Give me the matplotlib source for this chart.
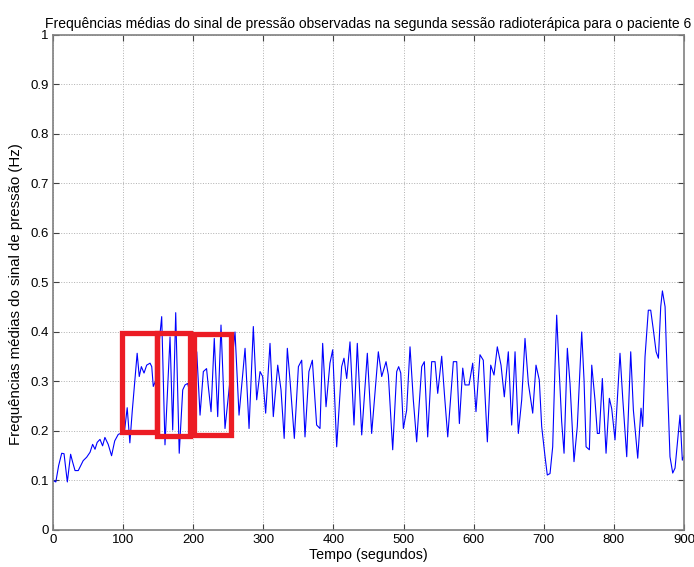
import numpy as np
import matplotlib
matplotlib.use("Agg")
import matplotlib.pyplot as plt
from matplotlib.patches import Rectangle

plt.rcParams['font.family'] = ['Liberation Sans', 'DejaVu Sans']

# tempo (s) e frequência média (Hz) do sinal de pressão
tempo = [0, 4, 8, 12.4, 15.7, 20.4, 25.1, 28, 31.4, 36, 43, 48, 52.8, 56.5, 59.9,
         63, 67, 70.7, 74, 78.7, 83.5, 88, 93, 97.7, 102, 105.8, 109.6, 113, 116.6,
         120, 123, 126, 129.8, 133.6, 138.4, 140.8, 143, 146, 155, 159.7, 166.9,
         170.7, 175, 180, 185, 188.3, 192, 197.8, 205, 209.7, 214.4, 219, 221.5,
         225.4, 230, 234.9, 239.6, 245.3, 259.6, 265.3, 273.9, 279.6, 285.7, 290.5,
         295.3, 299, 303.3, 309.5, 314.2, 320.5, 325.2, 329.7, 334.2, 338, 344.2,
         350, 354.7, 359.4, 365, 369.9, 373.7, 376, 380.8, 384.6, 389.4, 395, 398.9,
         404.6, 411.7, 415, 418.9, 423.6, 429.3, 434, 440.3, 448.3, 454.5, 464,
         468.8, 475, 478.3, 484.5, 490.2, 493, 496, 499.7, 504.4, 509.2, 513.9,
         518.7, 525.9, 529.6, 534.4, 540.1, 544.9, 548.7, 554.4, 558.2, 563, 568.6,
         571, 575.8, 579.6, 584.4, 587.6, 593.4, 598.6, 603.3, 609, 613.7, 619.5,
         624.3, 629, 633.7, 639, 643.7, 649.4, 654.2, 659, 663.7, 668.5, 673.2, 678,
         684.2, 688.9, 693.6, 697, 701.8, 705, 708.9, 712.7, 716, 718.4, 721.7,
         725.5, 728.9, 733.6, 737.4, 743.1, 747.8, 754.1, 757.4, 760.3, 765, 768.4,
         773, 776.4, 779.2, 783.5, 788.8, 793.5, 796.9, 801.6, 808.7, 812.6, 818.3,
         824, 827.8, 834, 838.7, 841.1, 844.4, 849.1, 852.5, 856.3, 860.2, 863.5,
         866.8, 869.2, 873, 876.2, 880, 883.9, 887.2, 890.5, 894.3, 897.6, 900]
freq = [0.100, 0.097, 0.130, 0.155, 0.154, 0.097, 0.153, 0.137, 0.120, 0.120, 0.140,
        0.147, 0.157, 0.173, 0.163, 0.177, 0.183, 0.170, 0.187, 0.173, 0.150, 0.180,
        0.193, 0.196, 0.200, 0.247, 0.176, 0.240, 0.300, 0.357, 0.310, 0.330, 0.317,
        0.333, 0.337, 0.330, 0.290, 0.300, 0.431, 0.172, 0.390, 0.202, 0.439, 0.155,
        0.283, 0.293, 0.296, 0.263, 0.360, 0.232, 0.320, 0.326, 0.290, 0.239, 0.387,
        0.229, 0.414, 0.205, 0.400, 0.232, 0.367, 0.205, 0.411, 0.263, 0.320, 0.310,
        0.236, 0.377, 0.229, 0.333, 0.283, 0.185, 0.367, 0.303, 0.185, 0.330, 0.343,
        0.188, 0.320, 0.343, 0.263, 0.212, 0.205, 0.377, 0.249, 0.337, 0.364, 0.168,
        0.330, 0.347, 0.306, 0.380, 0.212, 0.377, 0.192, 0.357, 0.195, 0.360, 0.310,
        0.340, 0.313, 0.162, 0.320, 0.330, 0.317, 0.205, 0.242, 0.370, 0.263, 0.178,
        0.330, 0.340, 0.188, 0.340, 0.340, 0.276, 0.351, 0.276, 0.188, 0.296, 0.340,
        0.340, 0.215, 0.327, 0.293, 0.293, 0.337, 0.239, 0.354, 0.343, 0.178, 0.333,
        0.313, 0.370, 0.333, 0.269, 0.360, 0.212, 0.360, 0.195, 0.263, 0.387, 0.296,
        0.236, 0.333, 0.303, 0.209, 0.148, 0.111, 0.114, 0.168, 0.330, 0.434, 0.330,
        0.219, 0.155, 0.367, 0.296, 0.138, 0.209, 0.400, 0.303, 0.168, 0.162, 0.333,
        0.263, 0.195, 0.195, 0.306, 0.155, 0.266, 0.245, 0.182, 0.357, 0.266, 0.148,
        0.360, 0.242, 0.145, 0.246, 0.209, 0.350, 0.444, 0.444, 0.404, 0.360, 0.347,
        0.451, 0.483, 0.451, 0.303, 0.148, 0.115, 0.125, 0.175, 0.232, 0.141, 0.150]

# janelas destacadas: (t_inicio, t_fim, f_min, f_max)
janelas = [(98.4, 148.0, 0.198, 0.398),
           (148.3, 195.8, 0.190, 0.398),
           (201.0, 254.3, 0.192, 0.395)]

fig = plt.figure(figsize=(6.94, 5.67), dpi=100)
ax = fig.add_axes([0.0764, 0.0653, 0.9092, 0.873])

ax.plot(tempo, freq, color=(0, 0, 1), lw=0.8)

for t0, t1, f0, f1 in janelas:
    ax.add_patch(Rectangle((t0, f0), t1 - t0, f1 - f0, fill=False,
                           edgecolor='#ec1c24', lw=3.8, zorder=5))

ax.set_xlim(0, 900)
ax.set_ylim(0, 1)
ax.set_xticks(np.arange(0, 901, 100))
ax.set_yticks(np.arange(0, 1.01, 0.1))
ax.set_yticklabels(['0', '0.1', '0.2', '0.3', '0.4', '0.5', '0.6', '0.7', '0.8', '0.9', '1'])
ax.grid(True, ls=':', color='#b0b0b0', lw=0.7)
ax.tick_params(direction='in', top=True, right=True, labelsize=9.5, length=4,
               color='#404040', pad=3)
for s in ax.spines.values():
    s.set_color('#808080')
    s.set_linewidth(1.2)

ax.set_title('Frequências médias do sinal de pressão observadas na segunda sessão radioterápica para o paciente 6',
             fontsize=10, pad=5)
ax.set_xlabel('Tempo (segundos)', fontsize=10.3, labelpad=1)
ax.set_ylabel('Frequências médias do sinal de pressão (Hz)', fontsize=10.8)
ax.yaxis.set_label_coords(-0.048, 0.477)

fig.savefig('out.png', dpi=100)
